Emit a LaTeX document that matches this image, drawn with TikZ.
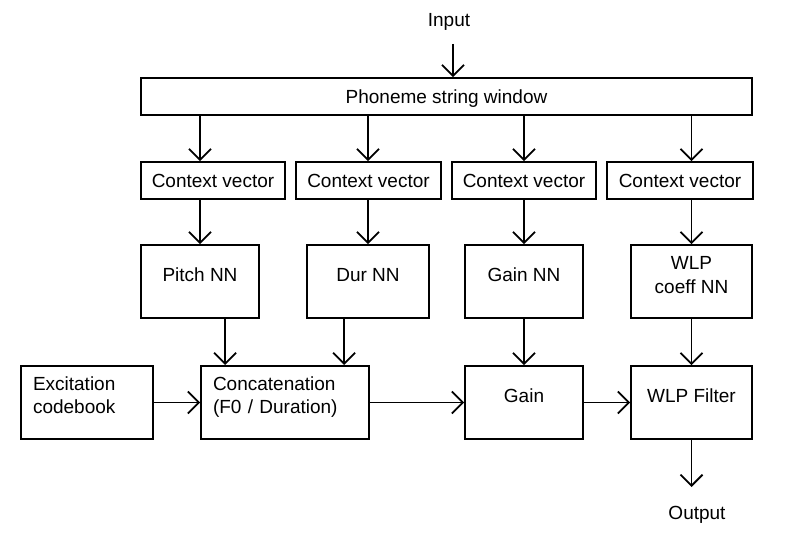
\documentclass[tikz,border=0pt]{standalone}
\usepackage{fontspec}
\setmainfont{Liberation Sans}
\usetikzlibrary{arrows.meta}

\begin{document}
\begin{tikzpicture}[x=1pt,y=-1pt,
  font=\fontsize{19}{24}\selectfont,
  box/.style={draw,line width=1.8pt,inner sep=0pt,text height=14pt,text depth=0pt},
  up/.style={text depth=14pt},
  twoline/.style={text height=38pt,text depth=14pt,align=center},
  twoleft/.style={text height=14pt,text depth=39pt,align=left},
  arr/.style={-{Straight Barb[length=11pt,width=22pt]},line width=1.8pt}]

\useasboundingbox (0,0) rectangle (790,545);

\node (in)  at (449,22)  {Input};
\node (out) at (697,515) {Output};

\node[box,minimum width=611,minimum height=37] (phon) at (446.5,96.5) {Phoneme string window};

\node[box,minimum width=144,minimum height=37] (cv1) at (213,180.5)   {Context vector};
\node[box,minimum width=145,minimum height=37] (cv2) at (368.5,180.5) {Context vector};
\node[box,minimum width=144,minimum height=37] (cv3) at (524,180.5)   {Context vector};
\node[box,minimum width=146,minimum height=37] (cv4) at (680,180.5)   {Context vector};

\node[box,up,minimum width=118,minimum height=73] (pnn) at (200,281.5)   {Pitch NN};
\node[box,up,minimum width=122,minimum height=73] (dnn) at (368,281.5)   {Dur NN};
\node[box,up,minimum width=118,minimum height=73] (gnn) at (524,281.5)   {Gain NN};
\node[box,twoline,minimum width=121,minimum height=73] (wnn) at (691.5,281.5) {WLP\\coeff NN};

\node[box,twoleft,minimum width=132,minimum height=73,text width=108] (exc) at (87,402.5) {Excitation\\codebook};
\node[box,twoleft,minimum width=168,minimum height=73,text width=144] (cat) at (285,402.5) {Concatenation\\(F0 / Duration)};
\node[box,up,minimum width=118,minimum height=73] (gain) at (524,402.5)  {Gain};
\node[box,up,minimum width=121,minimum height=73] (wlp)  at (691.5,402.5) {WLP Filter};

\coordinate (inp)  at (453,44);
\coordinate (outp) at (691.5,487);
\coordinate (cp) at ([xshift=25]cat.north west);
\coordinate (cd) at ([xshift=144]cat.north west);

\draw[arr] (inp) -- (inp |- phon.north);

\foreach \c/\n in {cv1/pnn,cv2/dnn,cv3/gnn,cv4/wnn}{
  \draw[arr] (phon.south -| \n) -- (\c.north -| \n);
  \draw[arr] (\c.south -| \n) -- (\n.north);
}

\draw[arr] (pnn.south -| cp) -- (cp);
\draw[arr] (dnn.south -| cd) -- (cd);
\draw[arr] (gnn) -- (gain);
\draw[arr] (wnn) -- (wlp);

\draw[arr] (exc) -- (cat);
\draw[arr] (cat) -- (gain);
\draw[arr] (gain) -- (wlp);
\draw[arr] (wlp) -- (outp);

\end{tikzpicture}
\end{document}
